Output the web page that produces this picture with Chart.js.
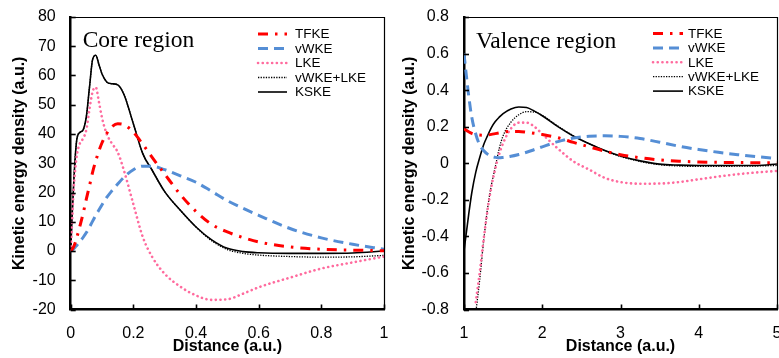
<!DOCTYPE html>
<html><head><meta charset="utf-8">
<script src="https://cdn.jsdelivr.net/npm/chart.js@4.4.1/dist/chart.umd.min.js"></script>
<style>
html,body{margin:0;padding:0;background:#fff;overflow:hidden}
#wrap{position:relative;width:779px;height:358px}
canvas{position:absolute;top:0}
#c1{left:0}
#c2{left:390px}
</style></head><body>
<div id="wrap"><canvas id="c1" width="390" height="358"></canvas><canvas id="c2" width="389" height="358"></canvas></div>
<script>
const seriesNames = ['TFKE', 'vWKE', 'LKE', 'vWKE+LKE', 'KSKE'];
const xTitle = 'Distance (a.u.)';
const yTitle = 'Kinetic energy density (a.u.)';
const panelTitles = ['Core region', 'Valence region'];

// Core region (left panel)
const coreDistance = [0, 0.005, 0.01, 0.015, 0.02, 0.03, 0.04, 0.05, 0.06, 0.07, 0.08, 0.09, 0.1, 0.115, 0.13, 0.15, 0.17, 0.2, 0.23, 0.26, 0.3, 0.35, 0.4, 0.45, 0.5, 0.55, 0.6, 0.7, 0.8, 0.9, 1.0];
const coreTFKE = [0, 0.6, 1.6, 3, 4.8, 8.8, 13, 17.8, 22.3, 27, 30.8, 34.2, 37, 40.2, 42.3, 43.5, 43.2, 40.6, 36.5, 32, 26.3, 19.3, 13.5, 9.1, 6.5, 4.6, 3.1, 1.4, 0.6, 0.3, 0.1];
const coreVWKE = [0, 0.3, 0.8, 1.4, 2, 3.3, 4.7, 6.3, 8.2, 10.2, 12.2, 14, 15.8, 18.3, 20.4, 22.9, 25.2, 27.8, 29, 29, 27.8, 25.7, 23.5, 20.4, 17.2, 14.6, 12.2, 7.7, 4.5, 2.3, 0.6];
const coreLKE = [0, 11, 22, 28.5, 33, 37, 38.5, 41.5, 48.5, 54.5, 56, 51, 45.5, 40, 37, 33.8, 27.5, 16, 4.8, -2, -7.8, -12.2, -15.2, -16.7, -16.5, -14.6, -12.4, -9.1, -6, -3.9, -1.9];
const coreVWKEplusLKE = [0, 13, 24, 33, 38.5, 40.6, 41.5, 46, 56, 65.5, 66.9, 63.8, 60.5, 57.8, 57.2, 56.8, 53.5, 43.5, 33.3, 27.6, 20.3, 13.9, 8.2, 3.5, 0.5, -0.8, -1.4, -1.9, -2.1, -2.0, -1.5];
const coreKSKE = [0, 13, 24, 33, 38.5, 40.6, 41.5, 46, 56, 65.5, 66.9, 63.8, 60.5, 57.8, 57.2, 56.8, 53.5, 43.5, 33.3, 27.6, 20.3, 13.9, 8.2, 3.8, 0.9, -0.2, -0.6, -0.8, -0.8, -0.7, 0];
const coreXTickLabels = ['0', '0.2', '0.4', '0.6', '0.8', '1'];
const coreYTickLabels = ['-20', '-10', '0', '10', '20', '30', '40', '50', '60', '70', '80'];
const coreRange = {xMin: 0, xMax: 1, xStep: 0.2, yMin: -20, yMax: 80, yStep: 10};

// Valence region (right panel)
const valenceDistance = [1, 1.03, 1.06, 1.1, 1.15, 1.2, 1.25, 1.3, 1.35, 1.4, 1.45, 1.5, 1.6, 1.7, 1.8, 1.9, 2, 2.2, 2.4, 2.6, 2.8, 3, 3.25, 3.5, 3.75, 4, 4.25, 4.5, 4.75, 5];
const valenceTFKE = [0.19, 0.18, 0.172, 0.163, 0.157, 0.154, 0.153, 0.155, 0.158, 0.162, 0.166, 0.17, 0.174, 0.174, 0.17, 0.164, 0.157, 0.14, 0.114, 0.09, 0.066, 0.047, 0.03, 0.018, 0.011, 0.007, 0.005, 0.004, 0.003, 0.003];
const valenceVWKE = [0.6, 0.48, 0.37, 0.25, 0.16, 0.1, 0.07, 0.05, 0.038, 0.032, 0.03, 0.032, 0.038, 0.048, 0.06, 0.075, 0.09, 0.118, 0.138, 0.148, 0.15, 0.147, 0.135, 0.115, 0.093, 0.075, 0.06, 0.047, 0.036, 0.026];
const valenceLKE = [null, null, null, null, -0.76, -0.6, -0.42, -0.26, -0.13, -0.03, 0.05, 0.11, 0.19, 0.222, 0.222, 0.2, 0.16, 0.08, 0.01, -0.035, -0.08, -0.103, -0.112, -0.111, -0.103, -0.088, -0.073, -0.06, -0.05, -0.042];
const valenceVWKEplusLKE = [null, null, null, null, -0.82, -0.64, -0.43, -0.25, -0.12, -0.02, 0.08, 0.15, 0.225, 0.265, 0.282, 0.28, 0.262, 0.203, 0.15, 0.107, 0.068, 0.037, 0.01, -0.008, -0.015, -0.017, -0.017, -0.016, -0.015, -0.012];
const valenceKSKE = [-0.48, -0.38, -0.28, -0.16, -0.05, 0.03, 0.1, 0.15, 0.195, 0.228, 0.252, 0.272, 0.297, 0.308, 0.305, 0.285, 0.26, 0.2, 0.148, 0.107, 0.07, 0.04, 0.013, -0.005, -0.01, -0.012, -0.012, -0.012, -0.012, -0.004];
const valenceXTickLabels = ['1', '2', '3', '4', '5'];
const valenceYTickLabels = ['-0.8', '-0.6', '-0.4', '-0.2', '0', '0.2', '0.4', '0.6', '0.8'];
const valenceRange = {xMin: 1, xMax: 5, xStep: 1, yMin: -0.8, yMax: 0.8, yStep: 0.2};

const lineStyles = [
  {borderColor: '#FF0000', borderWidth: 3, borderDash: [10, 7, 2.5, 7]},
  {borderColor: '#558ED5', borderWidth: 3, borderDash: [10, 6]},
  {borderColor: '#FF6B9E', borderWidth: 2.6, borderDash: [0.1, 4.6], borderCapStyle: 'round'},
  {borderColor: '#000000', borderWidth: 1.3, borderDash: [1.3, 1.3]},
  {borderColor: '#000000', borderWidth: 1.6, borderDash: []}
];

const tickFont = {family: "'Liberation Sans', Arial, sans-serif", size: 16};
const titleFont = {family: "'Liberation Sans', Arial, sans-serif", size: 16, weight: 'bold'};

function toPoints(xs, ys) {
  const out = [];
  xs.forEach((x, i) => { if (ys[i] !== null) out.push({x: x, y: ys[i]}); });
  return out;
}

const decor = {
  id: 'decor',
  afterDatasetsDraw(chart, args, o) {
    const ctx = chart.ctx, a = chart.chartArea;
    const xs = chart.scales.x, ys = chart.scales.y;
    ctx.save();
    ctx.strokeStyle = '#000';
    ctx.setLineDash([]);
    ctx.lineWidth = 1.2;
    ctx.beginPath();
    ctx.moveTo(a.left, a.top + 0.5);
    ctx.lineTo(a.right + 0.5, a.top + 0.5);
    ctx.lineTo(a.right + 0.5, a.bottom);
    ctx.stroke();
    ctx.lineWidth = 1.6;
    xs.ticks.forEach(t => {
      const p = Math.round(xs.getPixelForValue(t.value)) + 0.5;
      ctx.beginPath(); ctx.moveTo(p, a.bottom); ctx.lineTo(p, a.bottom - 5); ctx.stroke();
    });
    ys.ticks.forEach(t => {
      const p = Math.round(ys.getPixelForValue(t.value)) + 0.5;
      ctx.beginPath(); ctx.moveTo(a.left, p); ctx.lineTo(a.left + 5, p); ctx.stroke();
    });
    // panel label
    ctx.fillStyle = '#000';
    ctx.font = "23.5px 'Liberation Serif', 'Times New Roman', serif";
    ctx.textBaseline = 'alphabetic';
    ctx.textAlign = 'left';
    ctx.fillText(o.label, o.labelX, o.labelY);
    // legend
    ctx.font = "13.5px 'Liberation Sans', Arial, sans-serif";
    ctx.textBaseline = 'middle';
    chart.data.datasets.forEach((ds, i) => {
      const y = o.legY + i * o.legStep;
      ctx.save();
      ctx.strokeStyle = ds.borderColor;
      ctx.lineWidth = ds.borderWidth;
      ctx.lineCap = ds.borderCapStyle || 'butt';
      ctx.setLineDash(ds.borderDash || []);
      ctx.beginPath(); ctx.moveTo(o.legX0, y); ctx.lineTo(o.legX1, y); ctx.stroke();
      ctx.restore();
      ctx.fillText(ds.label, o.legText, y + 0.5);
    });
    ctx.restore();
  }
};

function makeChart(id, xs, series, r, xLabels, yLabels, yWidth, padRight, deco) {
  const datasets = series.map((ys, i) => Object.assign({
    label: seriesNames[i],
    data: toPoints(xs, ys),
    pointRadius: 0,
    fill: false,
    cubicInterpolationMode: 'monotone'
  }, lineStyles[i]));
  return new Chart(document.getElementById(id), {
    type: 'line',
    data: {datasets: datasets},
    options: {
      responsive: false,
      animation: false,
      devicePixelRatio: 1,
      layout: {padding: {left: 0, right: padRight, top: 17, bottom: 0}, autoPadding: false},
      plugins: {legend: {display: false}, tooltip: {enabled: false}, decor: deco},
      scales: {
        x: {
          type: 'linear', min: r.xMin, max: r.xMax,
          afterFit: s => { s.height = 48.5; s.paddingLeft = 0; s.paddingRight = 0; },
          grid: {display: false, drawTicks: false},
          border: {display: true, color: '#000', width: 2.5},
          ticks: {stepSize: r.xStep, color: '#000', font: tickFont, padding: 14.5, maxRotation: 0,
                  callback: (v, i) => xLabels[i]},
          title: {display: true, text: xTitle, color: '#000', font: titleFont, padding: {top: 0, bottom: 1.5}}
        },
        y: {
          type: 'linear', min: r.yMin, max: r.yMax,
          afterFit: s => { s.width = yWidth; s.paddingTop = 0; s.paddingBottom = 0; },
          grid: {display: false, drawTicks: false},
          border: {display: true, color: '#000', width: 2.5},
          ticks: {stepSize: r.yStep, color: '#000', font: tickFont, padding: 15,
                  callback: (v, i) => yLabels[i]},
          title: {display: true, text: yTitle, color: '#000', font: titleFont, padding: {top: 10.4, bottom: 0}}
        }
      }
    },
    plugins: [decor]
  });
}

makeChart('c1', coreDistance, [coreTFKE, coreVWKE, coreLKE, coreVWKEplusLKE, coreKSKE], coreRange, coreXTickLabels, coreYTickLabels, 70.7, 6,
  {label: panelTitles[0], labelX: 82.7, labelY: 47, legX0: 258, legX1: 287, legText: 295, legY: 34, legStep: 14.5});
makeChart('c2', valenceDistance, [valenceTFKE, valenceVWKE, valenceLKE, valenceVWKEplusLKE, valenceKSKE], valenceRange, valenceXTickLabels, valenceYTickLabels, 74, 2,
  {label: panelTitles[1], labelX: 86, labelY: 48, legX0: 263, legX1: 293, legText: 298, legY: 33.5, legStep: 14.4});
</script>
</body></html>
